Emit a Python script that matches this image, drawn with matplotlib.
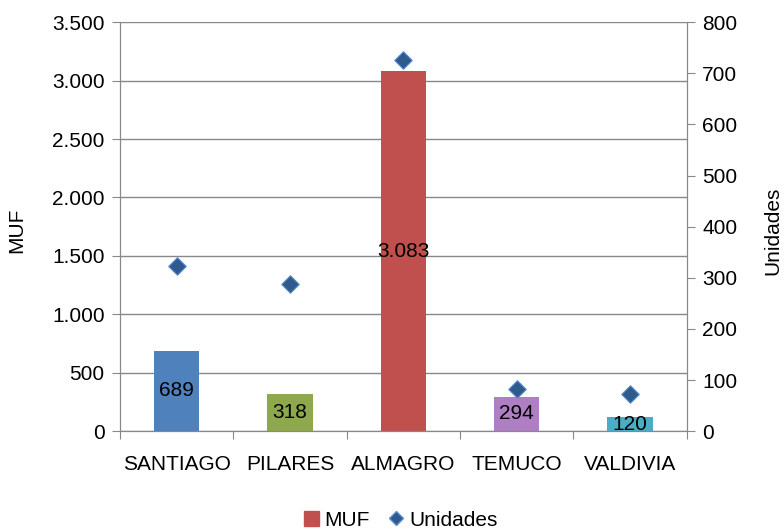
import matplotlib.pyplot as plt
from matplotlib.ticker import FuncFormatter
from matplotlib.lines import Line2D
from matplotlib.patches import Patch

plt.rcParams['font.family'] = ['Liberation Sans', 'DejaVu Sans']

ciudades = ["SANTIAGO", "PILARES", "ALMAGRO", "TEMUCO", "VALDIVIA"]
muf = [689, 318, 3083, 294, 120]
unidades = [323, 288, 727, 82, 72]
colores = ["#4F81BD", "#8EA84E", "#C0504D", "#AE7FC2", "#4BACC6"]

fs = 15

fig = plt.figure(figsize=(7.84, 5.29), dpi=100)
ax = fig.add_axes([0.153, 0.185, 0.723, 0.773])
ax2 = ax.twinx()

x = range(len(ciudades))
bars = ax.bar(x, muf, width=0.4, color=colores, zorder=2)

def fmt_miles(v, pos):
    return f"{int(v):,}".replace(",", ".")

for b, v in zip(bars, muf):
    ax.text(b.get_x() + b.get_width() / 2, v / 2, fmt_miles(v, None),
            ha="center", va="center", fontsize=fs, zorder=3)

ax2.scatter(x, unidades, marker="D", s=80, color="#2F5A8E",
            edgecolor="#5B8ED0", linewidth=0.8, zorder=4)

ax.set_xlim(-0.5, 4.5)
ax.set_ylim(0, 3500)
ax.set_yticks(range(0, 3501, 500))
ax.yaxis.set_major_formatter(FuncFormatter(fmt_miles))
ax2.set_ylim(0, 800)
ax2.set_yticks(range(0, 801, 100))

# category ticks at boundaries, labels in the middle
ax.set_xticks([i - 0.5 for i in range(6)])
ax.set_xticklabels([])
ax.set_xticks(list(x), minor=True)
ax.set_xticklabels(ciudades, minor=True, fontsize=fs)
ax.tick_params(axis="x", which="minor", length=0, pad=17)
ax.tick_params(axis="x", which="major", length=6, color="#888888")

ax.grid(axis="y", color="#888888", linewidth=1, zorder=0)
ax.set_axisbelow(True)

for a in (ax, ax2):
    a.spines["top"].set_visible(False)
    for s in ("left", "right", "bottom"):
        a.spines[s].set_color("#888888")
    a.tick_params(axis="y", labelsize=fs, length=6, color="#888888", pad=5)

ax.set_ylabel("MUF", fontsize=fs, rotation=90, va="center", ha="center")
ax.yaxis.set_label_coords(-0.182, 0.49)
ax2.set_ylabel("Unidades", fontsize=fs, rotation=90, va="center", ha="center")
ax2.yaxis.set_label_coords(1.152, 0.49)

handles = [Patch(color="#C0504D", label="MUF"),
           Line2D([], [], marker="D", linestyle="none", markersize=7,
                  markerfacecolor="#2F5A8E", markeredgecolor="#5B8ED0",
                  label="Unidades")]
fig.legend(handles=handles, loc="center", bbox_to_anchor=(401 / 784, 1 - 520 / 529),
           ncol=2, frameon=False, fontsize=fs, handlelength=0.7,
           handleheight=0.7, handletextpad=0.3, columnspacing=0.9)

fig.savefig("out.png", dpi=100)
